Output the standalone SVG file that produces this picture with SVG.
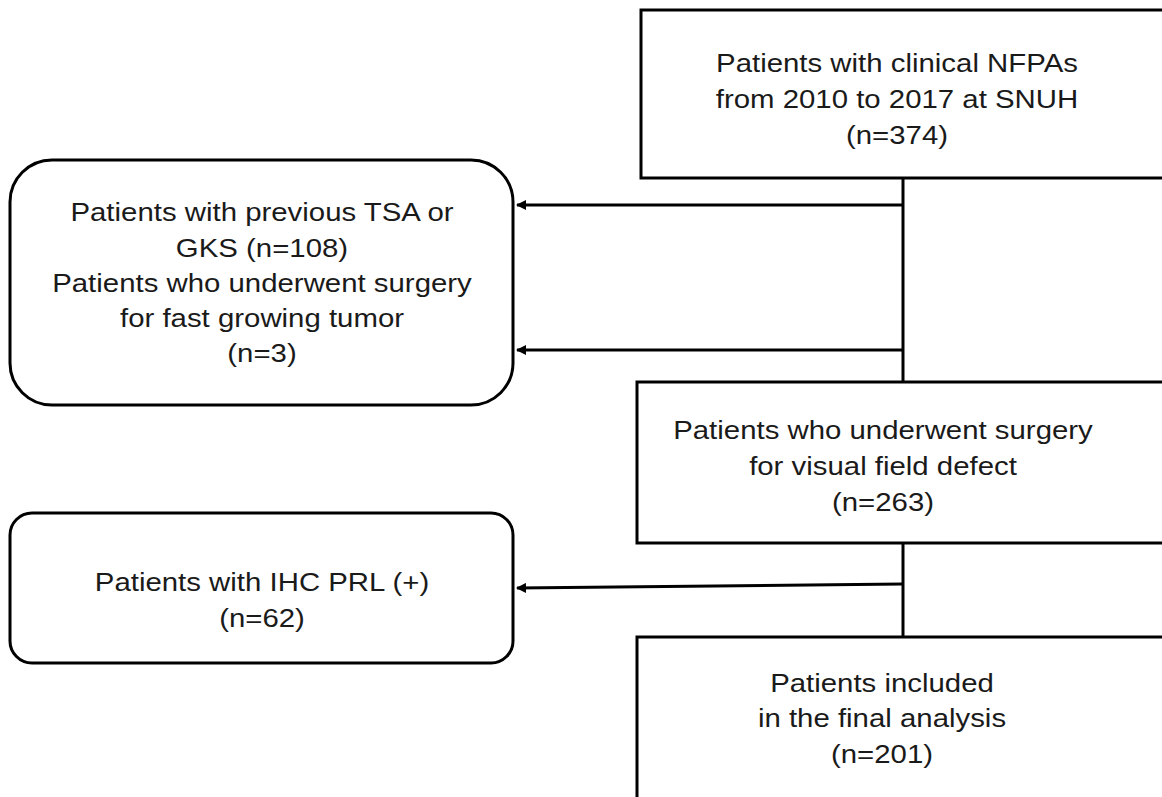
<svg xmlns="http://www.w3.org/2000/svg" width="1162" height="797" viewBox="0 0 1162 797">
<style>
.box{fill:#fff;stroke:#000;stroke-width:3}
.t{font-family:"Liberation Sans",Arial,sans-serif;font-size:26px;fill:#1a1a1a;text-anchor:middle}
.c{fill:none;stroke:#000;stroke-width:3}
</style>
<defs>
<marker id="ah" viewBox="0 0 10 10" refX="9" refY="5" markerWidth="10" markerHeight="10" markerUnits="userSpaceOnUse" orient="auto">
<path d="M0,0 L10,5 L0,10 z" fill="#000"/>
</marker>
</defs>
<rect width="1162" height="797" fill="#fff"/>
<g id="connectors">
<line class="c" x1="903" y1="178" x2="903" y2="382"/>
<line class="c" x1="903" y1="543" x2="903" y2="637"/>
<line class="c" x1="903" y1="205" x2="517" y2="205" marker-end="url(#ah)"/>
<line class="c" x1="903" y1="350" x2="517" y2="350" marker-end="url(#ah)"/>
<line class="c" x1="903" y1="584" x2="517" y2="588" marker-end="url(#ah)"/>
</g>
<g id="n1">
<rect class="box" x="641" y="10" width="540" height="168"/>
<g transform="translate(897 0) scale(1.13 1)">
<text class="t" x="0" y="72">Patients with  clinical NFPAs</text>
<text class="t" x="0" y="108">from 2010 to 2017 at SNUH</text>
<text class="t" x="0" y="144">(n=374)</text>
</g>
</g>
<g id="n2">
<rect class="box" x="10" y="160" width="503" height="245" rx="42" ry="42"/>
<g transform="translate(262 0) scale(1.13 1)">
<text class="t" x="0" y="221">Patients with  previous TSA or</text>
<text class="t" x="0" y="257">GKS (n=108)</text>
<text class="t" x="0" y="292">Patients who  underwent surgery</text>
<text class="t" x="0" y="327">for fast growing tumor</text>
<text class="t" x="0" y="362">(n=3)</text>
</g>
</g>
<g id="n3">
<rect class="box" x="637" y="382" width="540" height="161"/>
<g transform="translate(883 0) scale(1.13 1)">
<text class="t" x="0" y="439">Patients who  underwent surgery</text>
<text class="t" x="0" y="475">for visual  field defect</text>
<text class="t" x="0" y="511">(n=263)</text>
</g>
</g>
<g id="n4">
<rect class="box" x="10" y="513" width="503" height="150" rx="22" ry="22"/>
<g transform="translate(262 0) scale(1.13 1)">
<text class="t" x="0" y="591">Patients with  IHC PRL (+)</text>
<text class="t" x="0" y="627">(n=62)</text>
</g>
</g>
<g id="n5">
<rect class="box" x="637" y="637" width="540" height="200"/>
<g transform="translate(882 0) scale(1.13 1)">
<text class="t" x="0" y="692">Patients included</text>
<text class="t" x="0" y="727">in the final analysis</text>
<text class="t" x="0" y="763">(n=201)</text>
</g>
</g>
</svg>
